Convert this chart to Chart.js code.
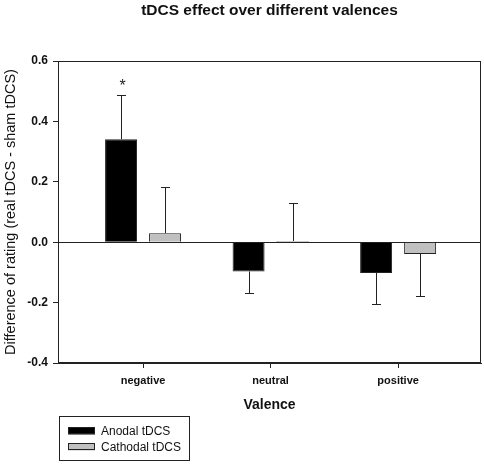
<!DOCTYPE html>
<html>
<head>
<meta charset="utf-8">
<script src="https://cdn.jsdelivr.net/npm/chart.js"></script>
<style>
  body { margin: 0; background: #fff; }
</style>
</head>
<body>
<canvas id="mycanvas" width="484" height="465"></canvas>
<script>
// values (difference real - sham)
let valences = ['negative', 'neutral', 'positive']
let anodal = [0.341, -0.097, -0.102]
let anodalErr = [0.148, 0.071, 0.101]
let cathodal = [0.030, 0.004, -0.039]
let cathodalErr = [0.154, 0.127, 0.138]
let anodalStars = ['*', '', '']
let yTicks = [-0.4, -0.2, 0.0, 0.2, 0.4, 0.6]

let font = "'Liberation Sans', Arial, sans-serif"
let ink = '#222'

function points(arr) {
  return arr.map((v, i) => ({ x: i, y: v }))
}

// frame + zero line go under the bars
let frame = {
  id: 'frame',
  beforeDatasetsDraw(chart) {
    let ctx = chart.ctx
    let a = chart.chartArea
    let y0 = Math.round(chart.scales.y.getPixelForValue(0)) + 0.5
    ctx.save()
    ctx.strokeStyle = ink
    ctx.lineWidth = 1
    ctx.strokeRect(Math.round(a.left) + 0.5, Math.round(a.top) + 0.5, Math.round(a.right - a.left) - 1, Math.round(a.bottom - a.top) - 1)
    ctx.beginPath()
    ctx.moveTo(a.left, y0)
    ctx.lineTo(a.right, y0)
    ctx.stroke()
    ctx.restore()
  }
}

// one sided error bars + the star
let errorBars = {
  id: 'errorBars',
  afterDatasetsDraw(chart) {
    let ctx = chart.ctx
    let y = chart.scales.y
    let errs = [anodalErr, cathodalErr]
    ctx.save()
    ctx.strokeStyle = ink
    ctx.lineWidth = 1
    chart.data.datasets.forEach((ds, d) => {
      let meta = chart.getDatasetMeta(d)
      meta.data.forEach((bar, i) => {
        let v = ds.data[i].y
        let end = v >= 0 ? v + errs[d][i] : v - errs[d][i]
        let x = Math.round(bar.x) + 0.5
        let yb = y.getPixelForValue(v)
        let ye = Math.round(y.getPixelForValue(end)) + 0.5
        ctx.beginPath()
        ctx.moveTo(x, yb)
        ctx.lineTo(x, ye)
        ctx.moveTo(x - 4.5, ye)
        ctx.lineTo(x + 4.5, ye)
        ctx.stroke()
        if (d == 0 && anodalStars[i]) {
          ctx.fillStyle = ink
          ctx.font = '16px ' + font
          ctx.textAlign = 'center'
          ctx.textBaseline = 'bottom'
          ctx.fillText(anodalStars[i], x + 1, ye - 1)
        }
      })
    })
    ctx.restore()
  }
}

// title over the plot + boxed legend under the axis
let extras = {
  id: 'extras',
  afterDraw(chart) {
    let ctx = chart.ctx
    let a = chart.chartArea
    ctx.save()
    ctx.fillStyle = '#111'
    ctx.font = 'bold 15.5px ' + font
    ctx.textAlign = 'center'
    ctx.textBaseline = 'middle'
    ctx.fillText('tDCS effect over different valences', (a.left + a.right) / 2, 11)

    ctx.strokeStyle = ink
    ctx.lineWidth = 1
    ctx.strokeRect(59.5, 416.5, 130, 44)
    ctx.font = '12px ' + font
    ctx.textAlign = 'left'
    chart.data.datasets.forEach((ds, d) => {
      let top = 427.5 + d * 16
      ctx.fillStyle = ds.backgroundColor
      ctx.fillRect(68, top, 27, 7)
      ctx.strokeRect(68.5, top, 26, 6)
      ctx.fillStyle = '#111'
      ctx.fillText(ds.label, 101, top + 4)
    })
    ctx.restore()
  }
}

let element = document.getElementById('mycanvas')
let mychart = new Chart(element, {
  type: 'bar',
  data: {
    datasets: [
      { label: 'Anodal tDCS', data: points(anodal), backgroundColor: '#000000', borderColor: ink, borderWidth: 1 },
      { label: 'Cathodal tDCS', data: points(cathodal), backgroundColor: '#c0c0c0', borderColor: ink, borderWidth: 1 }
    ]
  },
  options: {
    responsive: false,
    animation: false,
    categoryPercentage: 0.69,
    barPercentage: 0.727,
    layout: { padding: { top: 61, right: 3, bottom: 50, left: 0 } },
    plugins: {
      legend: { display: false },
      title: { display: false },
      tooltip: { enabled: false }
    },
    scales: {
      x: {
        type: 'linear',
        min: -0.667,
        max: 2.65,
        offset: false,
        afterBuildTicks: (scale) => { scale.ticks = valences.map((v, i) => ({ value: i })) },
        afterFit: (scale) => { scale.height = 52 },
        ticks: {
          color: '#111',
          padding: 6,
          maxRotation: 0,
          font: { family: font, size: 11, weight: 'bold' },
          callback: (v) => valences[v]
        },
        grid: { offset: false, drawOnChartArea: false, drawTicks: true, tickLength: 5, color: ink },
        border: { display: true, color: ink },
        title: {
          display: true,
          text: 'Valence',
          color: '#111',
          padding: { top: 0, bottom: 1 },
          font: { family: font, size: 14, weight: 'bold' }
        }
      },
      y: {
        min: -0.4,
        max: 0.6,
        afterBuildTicks: (scale) => { scale.ticks = yTicks.map(v => ({ value: v })) },
        afterFit: (scale) => { scale.width = 58 },
        ticks: {
          color: '#111',
          padding: 5,
          font: { family: font, size: 12, weight: 'bold' },
          callback: (v) => v.toFixed(1)
        },
        grid: { drawOnChartArea: false, drawTicks: true, tickLength: 5, color: ink },
        border: { display: true, color: ink },
        title: {
          display: true,
          text: 'Difference of rating (real tDCS - sham tDCS)',
          color: '#111',
          padding: { top: 2, bottom: 0 },
          font: { family: font, size: 14.5 }
        }
      }
    }
  },
  plugins: [frame, errorBars, extras]
})
</script>
</body>
</html>
